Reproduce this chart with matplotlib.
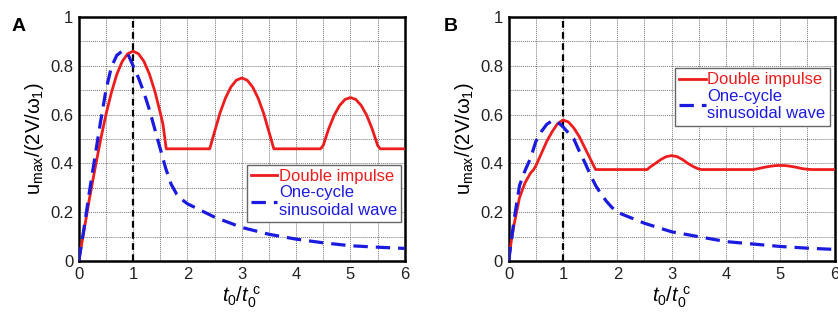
import matplotlib
matplotlib.use("Agg")
import matplotlib.pyplot as plt
from matplotlib.ticker import MultipleLocator

plt.rcParams['font.family'] = ['Liberation Sans', 'DejaVu Sans']
plt.rcParams['mathtext.fontset'] = 'custom'
plt.rcParams['mathtext.rm'] = 'Liberation Sans'
plt.rcParams['mathtext.it'] = 'Liberation Sans:italic'

# ---- Panel A data ----
a_red_x = [0, 0.1, 0.2, 0.3, 0.4, 0.5, 0.6, 0.7, 0.8, 0.9, 1.0, 1.1, 1.2, 1.3, 1.4, 1.5, 1.55, 1.61,
           2.41, 2.5, 2.6, 2.7, 2.8, 2.9, 3.0, 3.1, 3.2, 3.3, 3.4, 3.5, 3.59,
           4.45, 4.5, 4.6, 4.7, 4.8, 4.9, 5.0, 5.1, 5.2, 5.3, 5.4, 5.5, 5.55, 6.0]
a_red_y = [0, 0.13, 0.26, 0.38, 0.495, 0.6, 0.69, 0.765, 0.818, 0.849, 0.86, 0.849, 0.818, 0.766, 0.696, 0.608, 0.56, 0.46,
           0.46, 0.53, 0.607, 0.668, 0.713, 0.741, 0.75, 0.741, 0.713, 0.668, 0.607, 0.53, 0.46,
           0.46, 0.474, 0.542, 0.597, 0.637, 0.662, 0.67, 0.662, 0.637, 0.597, 0.542, 0.474, 0.46, 0.46]
a_blue_x = [0, 0.1, 0.2, 0.3, 0.4, 0.5, 0.6, 0.7, 0.8, 0.9, 1.0, 1.1, 1.2, 1.3, 1.4, 1.5, 1.6, 1.7,
            1.8, 1.9, 2.0, 2.5, 3.0, 3.5, 4.0, 4.5, 5.0, 5.5, 6.0]
a_blue_y = [0, 0.14, 0.29, 0.43, 0.57, 0.7, 0.795, 0.843, 0.86, 0.85, 0.8, 0.75, 0.69, 0.62, 0.54, 0.46, 0.38, 0.315,
            0.275, 0.252, 0.235, 0.18, 0.138, 0.11, 0.09, 0.075, 0.063, 0.057, 0.052]

# ---- Panel B data ----
b_red_x = [0, 0.05, 0.1, 0.2, 0.3, 0.4, 0.46, 0.5, 0.6, 0.7, 0.8, 0.9, 1.0, 1.1, 1.2, 1.3, 1.4, 1.5, 1.6,
           2.55, 2.6, 2.7, 2.8, 2.9, 3.0, 3.1, 3.2, 3.3, 3.4, 3.5, 3.55,
           4.5, 4.6, 4.7, 4.8, 4.9, 5.0, 5.1, 5.2, 5.3, 5.4, 5.5, 5.6, 6.0]
b_red_y = [0, 0.085, 0.15, 0.26, 0.32, 0.36, 0.375, 0.39, 0.44, 0.49, 0.53, 0.563, 0.578, 0.57, 0.545, 0.51, 0.465, 0.42, 0.375,
           0.375, 0.385, 0.4, 0.416, 0.428, 0.432, 0.428, 0.416, 0.4, 0.387, 0.377, 0.375,
           0.375, 0.379, 0.384, 0.388, 0.391, 0.392, 0.391, 0.388, 0.384, 0.379, 0.376, 0.375, 0.375]
b_blue_x = [0, 0.1, 0.2, 0.3, 0.4, 0.5, 0.6, 0.7, 0.8, 0.9, 1.0, 1.1, 1.2, 1.3, 1.4, 1.5, 1.6, 1.7,
            1.8, 1.9, 2.0, 2.5, 3.0, 3.5, 4.0, 4.5, 5.0, 5.5, 6.0]
b_blue_y = [0, 0.17, 0.31, 0.37, 0.42, 0.49, 0.53, 0.56, 0.575, 0.57, 0.55, 0.525, 0.5, 0.45, 0.405, 0.355, 0.31, 0.275,
            0.245, 0.22, 0.2, 0.155, 0.12, 0.1, 0.08, 0.07, 0.06, 0.053, 0.048]

panel_labels = ['A', 'B']
legend_labels = ['Double impulse', 'One-cycle\nsinusoidal wave']
x_ticks = [0, 1, 2, 3, 4, 5, 6]
y_ticks = [0, 0.2, 0.4, 0.6, 0.8, 1]
y_tick_labels = ['0', '0.2', '0.4', '0.6', '0.8', '1']

RED = '#ee1c1c'
BLUE = '#1a1ae0'

fig = plt.figure(figsize=(8.38, 3.2), dpi=100)
ax_a = fig.add_axes([0.094, 0.184, 0.389, 0.763])
ax_b = fig.add_axes([0.607, 0.184, 0.389, 0.763])

panels = [
    (ax_a, a_red_x, a_red_y, a_blue_x, a_blue_y, (0.515, 0.16), panel_labels[0], (0.014, 0.945)),
    (ax_b, b_red_x, b_red_y, b_blue_x, b_blue_y, (0.51, 0.555), panel_labels[1], (0.53, 0.945)),
]

for ax, rx, ry, bx, by, legloc, lab, labpos in panels:
    ax.set_xlim(0, 6)
    ax.set_ylim(0, 1)
    ax.xaxis.set_minor_locator(MultipleLocator(0.5))
    ax.yaxis.set_minor_locator(MultipleLocator(0.1))
    ax.set_xticks(x_ticks)
    ax.set_yticks(y_ticks)
    ax.set_yticklabels(y_tick_labels)
    ax.grid(True, which='both', color='#777777', linestyle=(0, (1, 1)), linewidth=0.7)
    ax.set_axisbelow(True)
    ax.tick_params(which='both', length=0, labelsize=12, pad=4, colors='#222222')
    for s in ax.spines.values():
        s.set_linewidth(1.8)
        s.set_color('black')

    ax.axvline(1, color='black', linestyle=(0, (3, 2)), linewidth=1.6, zorder=3)
    l1, = ax.plot(rx, ry, color=RED, linewidth=2.0, zorder=4, label=legend_labels[0])
    l2, = ax.plot(bx, by, color=BLUE, linewidth=2.3, linestyle=(0, (4.5, 2.5)), zorder=5,
                  label=legend_labels[1])

    leg = ax.legend(handles=[l1, l2], loc='lower left', bbox_to_anchor=legloc,
                    bbox_transform=ax.transAxes, fontsize=12, frameon=True, fancybox=False,
                    edgecolor='#666666', framealpha=1, borderpad=0.25, handlelength=1.6,
                    handletextpad=0.1, labelspacing=0.1, borderaxespad=0)
    leg.get_frame().set_linewidth(1.0)
    for t, c in zip(leg.get_texts(), [RED, BLUE]):
        t.set_color(c)

    ax.set_xlabel(r'$\mathit{t}_\mathregular{0}/\mathit{t}_\mathregular{0}^{\ \mathregular{c}}$',
                  fontsize=14.5, labelpad=2)
    ax.set_ylabel(r'$\mathregular{u_{max}/(2V/\omega_{1})}$', fontsize=14.5, labelpad=3)
    fig.text(labpos[0], labpos[1], lab, fontsize=14, fontweight='bold', ha='left', va='top')

fig.savefig('out.png', dpi=100)
